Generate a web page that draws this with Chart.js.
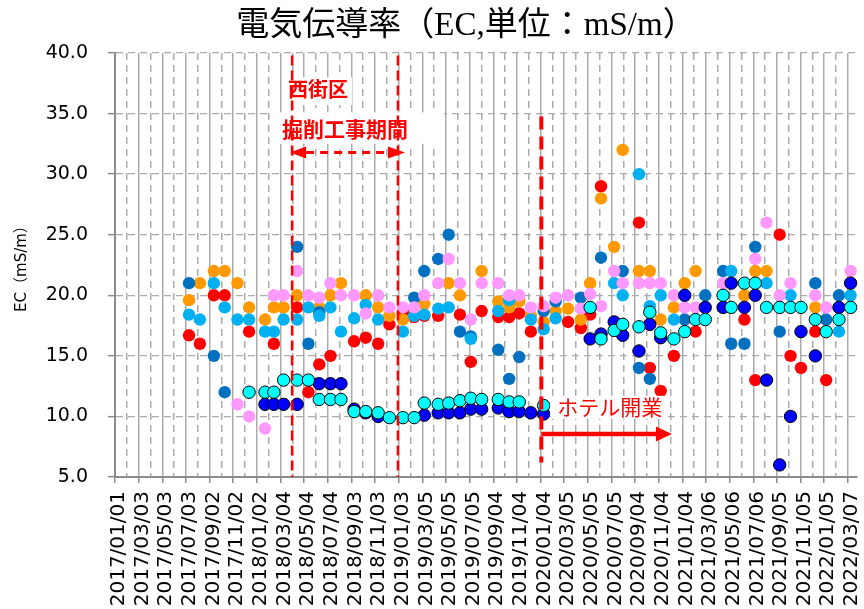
<!DOCTYPE html>
<html lang="ja">
<head>
<meta charset="utf-8">
<title>電気伝導率（EC,単位：mS/m）</title>
<script src="https://cdn.jsdelivr.net/npm/chart.js@4.4.1/dist/chart.umd.min.js"></script>
<style>
  html, body { margin: 0; padding: 0; background: #fff; }
  #wrap { width: 864px; height: 609px; }
</style>
</head>
<body>
<div id="wrap"><canvas id="ecChart" width="864" height="609"></canvas></div>
<script>
// 採水日
const sampleDates = [
  '2017/07/11', '2017/08/08', '2017/09/13', '2017/10/11', '2017/11/13', '2017/12/13', '2018/01/23', '2018/02/15', '2018/03/12', '2018/04/16',
  '2018/05/15', '2018/06/12', '2018/07/11', '2018/08/07', '2018/09/10', '2018/10/10', '2018/11/11', '2018/12/10', '2019/01/14', '2019/02/12',
  '2019/03/10', '2019/04/15', '2019/05/12', '2019/06/10', '2019/07/08', '2019/08/05', '2019/09/17', '2019/10/15', '2019/11/10', '2019/12/10',
  '2020/01/12', '2020/02/12', '2020/03/15', '2020/04/17', '2020/05/11', '2020/06/08', '2020/07/12', '2020/08/03', '2020/09/14', '2020/10/12',
  '2020/11/09', '2020/12/13', '2021/01/10', '2021/02/07', '2021/03/04', '2021/04/19', '2021/05/10', '2021/06/13', '2021/07/11', '2021/08/09',
  '2021/09/12', '2021/10/10', '2021/11/06', '2021/12/13', '2022/01/10', '2022/02/12', '2022/03/14'
];

// 観測点ごとの EC (mS/m)、欠測は null
const redSeries = [
  16.7, 16.0, 20.0, 20.0, null, 17.0, null, 16.0, null, 19.0,
  12.0, 14.3, 15.0, null, 16.2, 16.5, 16.0, 17.6, 18.6, 18.2,
  18.3, 18.3, null, 18.4, 14.5, 18.7, 18.2, 18.2, 18.5, 17.0,
  null, null, 17.8, 17.3, 18.4, 29.0, null, null, 26.0, 14.0,
  12.1, 15.0, null, 17.0, null, null, null, 18.0, 13.0, null,
  25.0, 15.0, 14.0, 17.0, 13.0, null, null
];
const orangeSeries = [
  19.6, 21.0, 22.0, 22.0, 21.0, 19.0, 18.0, 19.0, 19.0, 20.0,
  null, 19.0, 20.0, 21.0, null, 20.0, 19.0, 18.3, 18.0, null,
  19.3, null, 21.0, 20.0, null, 22.0, 19.5, 19.0, 19.5, 18.3,
  17.8, 18.7, 18.9, 18.0, 21.0, 28.0, 24.0, 32.0, 22.0, 22.0,
  18.0, 19.0, 21.0, 22.0, null, 20.0, null, 20.0, 22.0, 22.0,
  null, null, null, 19.0, null, null, null
];
const navySeries = [
  21.0, null, 15.0, 12.0, null, null, null, null, null, 24.0,
  16.0, 18.6, null, null, null, null, null, null, null, 19.8,
  22.0, 23.0, 25.0, 17.0, 16.6, null, 15.5, 13.1, 14.9, null,
  18.7, 19.5, null, 19.8, null, 23.1, null, 22.0, 14.0, 13.1,
  null, null, 18.0, null, 20.0, 22.0, 16.0, 16.0, 24.0, null,
  17.0, null, null, 21.0, 18.0, 20.0, null
];
const skySeries = [
  18.4, 18.0, 21.0, 19.0, 18.0, 18.0, 17.0, 17.0, 18.0, 18.0,
  19.0, 18.3, 19.0, 17.0, 18.1, 19.2, 18.0, null, 17.0, 18.3,
  18.4, 18.9, 19.0, null, 16.4, null, 18.7, 19.6, null, 18.0,
  17.2, 18.1, null, null, null, null, 21.0, 20.0, 30.0, 19.1,
  20.0, 18.0, null, null, null, null, 22.0, null, null, 21.0,
  null, 20.0, null, null, null, 17.0, 20.0
];
const pinkSeries = [
  null, null, null, null, 11.0, 10.0, 9.0, 20.0, 20.0, 22.0,
  20.0, 19.8, 21.0, 20.0, 20.0, 18.5, 20.0, 19.0, 19.0, 19.0,
  20.0, 21.0, 23.0, 21.0, 18.0, 21.0, 21.0, 20.0, 20.0, 19.0,
  19.1, 19.8, 20.0, 18.9, 20.1, 19.1, 22.0, 21.0, 21.0, 21.0,
  21.0, 20.0, 19.0, 19.0, null, 21.0, null, null, 23.0, 26.0,
  20.0, 21.0, null, 20.0, 19.0, null, 22.0
];
const blueSeries = [
  null, null, null, null, null, null, 11.0, 11.0, 11.0, 11.0,
  null, 12.7, 12.7, 12.7, 10.6, 10.3, 10.0, null, null, null,
  10.1, 10.3, 10.3, 10.3, 10.6, 10.6, 10.7, 10.4, 10.4, 10.3,
  10.2, null, null, null, 16.4, 16.8, 17.8, 16.7, 15.4, 17.6,
  16.5, null, 20.0, null, 19.0, 19.0, 21.0, 19.0, 20.0, 13.0,
  6.0, 10.0, 17.0, 15.0, null, 19.0, 21.0
];
const cyanSeries = [
  null, null, null, null, null, 12.0, 12.0, 12.0, 13.0, 13.0,
  13.0, 11.4, 11.4, 11.4, 10.4, 10.4, 10.3, 9.9, 9.9, 9.9,
  11.1, 11.0, 11.1, 11.3, 11.5, 11.4, 11.4, 11.2, 11.2, null,
  10.9, null, null, null, 19.0, 16.4, 17.1, 17.6, 17.4, 18.6,
  16.9, 16.4, 17.0, 18.0, 18.0, 20.0, 19.0, 21.0, 21.0, 19.0,
  19.0, 19.0, 19.0, 18.0, 17.0, 18.0, 19.0
];

// 軸目盛
const xTickLabels = [
  '2017/01/01', '2017/03/03', '2017/05/03', '2017/07/03', '2017/09/02', '2017/11/02',
  '2018/01/02', '2018/03/04', '2018/05/04', '2018/07/04', '2018/09/03', '2018/11/03',
  '2019/01/03', '2019/03/05', '2019/05/05', '2019/07/05', '2019/09/04', '2019/11/04',
  '2020/01/04', '2020/03/05', '2020/05/05', '2020/07/05', '2020/09/04', '2020/11/04',
  '2021/01/04', '2021/03/06', '2021/05/06', '2021/07/06', '2021/09/05', '2021/11/05',
  '2022/01/05', '2022/03/07'
];
const yTickValues = [5, 10, 15, 20, 25, 30, 35, 40];
const xAxisEnd = '2022/03/30';

// 注記の日付
const digStart = '2018/04/03';
const digEnd = '2019/01/01';
const hotelOpen = '2020/01/06';
const hotelArrowEnd = '2020/12/08';

const baseFont = "'DejaVu Sans', 'Noto Sans CJK JP', sans-serif";
const jpFont = "'Noto Sans CJK JP', sans-serif";

// 2017/01/01 からの日数
function dayNum(s) {
    const [yy, mm, dd] = s.split('/').map(Number);
    return Math.round((Date.UTC(yy, mm - 1, dd) - Date.UTC(2017, 0, 1)) / 86400000);
}

function toPoints(values) {
    const pts = [];
    values.forEach((v, i) => {
        if (v !== null) pts.push({ x: dayNum(sampleDates[i]), y: v });
    });
    return pts;
}

// 主目盛(61日)と補助目盛(その中間)
const xTickValues = [];
xTickLabels.forEach((lbl, i) => {
    const d = dayNum(lbl);
    xTickValues.push(d);
    if (i < xTickLabels.length - 1) xTickValues.push(d + 30.5);
});

const seriesList = [
    { label: '地点A', values: redSeries, color: '#FF0000', edge: null },
    { label: '地点B', values: orangeSeries, color: '#FF9900', edge: null },
    { label: '地点C', values: navySeries, color: '#0070C0', edge: null },
    { label: '地点D', values: skySeries, color: '#00B0F0', edge: null },
    { label: '地点E', values: pinkSeries, color: '#FF99FF', edge: null },
    { label: '地点F', values: blueSeries, color: '#0000FF', edge: '#000000' },
    { label: '地点G', values: cyanSeries, color: '#00FFFF', edge: '#000000' }
];

const datasets = seriesList.map((s, i) => ({
    label: s.label,
    data: toPoints(s.values),
    backgroundColor: s.color,
    borderColor: s.edge || s.color,
    borderWidth: s.edge ? 1 : 0,
    pointRadius: 6.2,
    pointHoverRadius: 6.2,
    order: seriesList.length - i,
    clip: false
}));

// タイトル
const titlePlugin = {
    id: 'chartTitle',
    afterDraw(chart) {
        const ctx = chart.ctx;
        ctx.save();
        ctx.font = "33px 'Liberation Serif', 'Noto Sans CJK JP', serif";
        ctx.fillStyle = '#000';
        ctx.textAlign = 'center';
        ctx.textBaseline = 'middle';
        ctx.fillText('電気伝導率（EC,単位：mS/m）', 466, 26);
        ctx.restore();
    }
};

function arrowHead(ctx, tipX, y, dir, len, half) {
    ctx.beginPath();
    ctx.moveTo(tipX, y);
    ctx.lineTo(tipX - dir * len, y - half);
    ctx.lineTo(tipX - dir * len, y + half);
    ctx.closePath();
    ctx.fill();
}

// 工事期間・ホテル開業の注記
const notesPlugin = {
    id: 'siteNotes',
    afterDatasetsDraw(chart) {
        const { ctx, scales: { x, y } } = chart;
        const x1 = x.getPixelForValue(dayNum(digStart));
        const x2 = x.getPixelForValue(dayNum(digEnd));
        const x3 = x.getPixelForValue(dayNum(hotelOpen));
        const x4 = x.getPixelForValue(dayNum(hotelArrowEnd));
        const red = '#FF0000';

        ctx.save();
        // 白地
        ctx.fillStyle = '#fff';
        ctx.fillRect(x1 - 10, y.getPixelForValue(38.0), 70, y.getPixelForValue(35.7) - y.getPixelForValue(38.0));
        ctx.fillRect(x1 - 22, y.getPixelForValue(35.1), x2 - x1 + 68, y.getPixelForValue(32.5) - y.getPixelForValue(35.1));
        ctx.fillRect(x3 + 9, y.getPixelForValue(11.7), 117, y.getPixelForValue(9.8) - y.getPixelForValue(11.7));

        // 縦の破線
        ctx.strokeStyle = red;
        ctx.lineWidth = 2.5;
        ctx.setLineDash([10, 5]);
        [x1, x2].forEach(px => {
            ctx.beginPath();
            ctx.moveTo(px, y.getPixelForValue(39.8));
            ctx.lineTo(px, y.getPixelForValue(5));
            ctx.stroke();
        });
        ctx.lineWidth = 4;
        ctx.setLineDash([13, 7]);
        ctx.beginPath();
        ctx.moveTo(x3, y.getPixelForValue(34.75));
        ctx.lineTo(x3, y.getPixelForValue(6.2));
        ctx.stroke();

        // 工事期間の矢印
        const ya = y.getPixelForValue(31.78);
        ctx.lineWidth = 3;
        ctx.setLineDash([8, 6]);
        ctx.beginPath();
        ctx.moveTo(x1 + 14, ya);
        ctx.lineTo(x2 - 10, ya);
        ctx.stroke();
        ctx.setLineDash([]);
        ctx.fillStyle = red;
        arrowHead(ctx, x1 - 2, ya, -1, 16, 6);
        arrowHead(ctx, x2 + 7, ya, 1, 17, 6);

        // ホテル開業の矢印
        const yb = y.getPixelForValue(8.55);
        ctx.lineWidth = 4.5;
        ctx.beginPath();
        ctx.moveTo(x3, yb);
        ctx.lineTo(x4 - 12, yb);
        ctx.stroke();
        arrowHead(ctx, x4, yb, 1, 16, 7.5);

        // 文字
        ctx.textBaseline = 'middle';
        ctx.textAlign = 'left';
        ctx.font = 'bold 20px ' + jpFont;
        ctx.fillText('西街区', x1 - 4, y.getPixelForValue(36.98));
        ctx.textAlign = 'center';
        ctx.font = 'bold 21px ' + jpFont;
        ctx.fillText('掘削工事期間', (x1 + x2) / 2, y.getPixelForValue(33.76));
        ctx.textAlign = 'left';
        ctx.font = '21px ' + jpFont;
        ctx.fillText('ホテル開業', x3 + 16, y.getPixelForValue(10.74));
        ctx.restore();
    }
};

function createEcChart() {
    const ctx = document.getElementById('ecChart').getContext('2d');
    new Chart(ctx, {
        type: 'scatter',
        data: { datasets: datasets },
        options: {
            responsive: false,
            devicePixelRatio: 1,
            animation: false,
            layout: { padding: { top: 53, right: 0, bottom: 0, left: 0 } },
            plugins: {
                legend: { display: false },
                title: { display: false },
                tooltip: { enabled: false }
            },
            scales: {
                x: {
                    type: 'linear',
                    min: 0,
                    max: dayNum(xAxisEnd),
                    afterBuildTicks: scale => { scale.ticks = xTickValues.map(v => ({ value: v })); },
                    afterFit: scale => { scale.height = 132; scale.paddingLeft = 0; scale.paddingRight = 0; },
                    ticks: {
                        autoSkip: false,
                        minRotation: 90,
                        maxRotation: 90,
                        padding: 8,
                        labelOffset: 4,
                        color: '#000',
                        font: { family: baseFont, size: 20 },
                        callback: (v, i) => (i % 2 === 0 ? xTickLabels[i / 2] : '')
                    },
                    grid: {
                        color: '#ABABAB',
                        lineWidth: 1.5,
                        tickLength: 6,
                        tickWidth: 1.5,
                        tickColor: c => (c.index % 2 === 0 ? '#8C8C8C' : 'rgba(0,0,0,0)')
                    },
                    border: {
                        color: '#8C8C8C',
                        width: 2,
                        dash: c => (c.index % 2 === 1 ? [7, 5] : [])
                    }
                },
                y: {
                    min: 5,
                    max: 40,
                    afterBuildTicks: scale => { scale.ticks = yTickValues.map(v => ({ value: v })); },
                    afterFit: scale => { scale.width = 115; },
                    ticks: {
                        padding: 20,
                        color: '#000',
                        font: { family: baseFont, size: 19 },
                        callback: v => v.toFixed(1)
                    },
                    grid: {
                        color: '#ABABAB',
                        lineWidth: 1.3,
                        tickLength: 7,
                        tickWidth: 1.5,
                        tickColor: '#8C8C8C'
                    },
                    border: { color: '#8C8C8C', width: 2, dash: [7, 5] },
                    title: {
                        display: true,
                        text: 'EC（mS/m）',
                        color: '#000',
                        font: { family: baseFont, size: 15 },
                        padding: { top: 13, bottom: 0 }
                    }
                }
            }
        },
        plugins: [notesPlugin, titlePlugin]
    });
}

document.addEventListener('DOMContentLoaded', () => {
    createEcChart();
});
</script>
</body>
</html>
